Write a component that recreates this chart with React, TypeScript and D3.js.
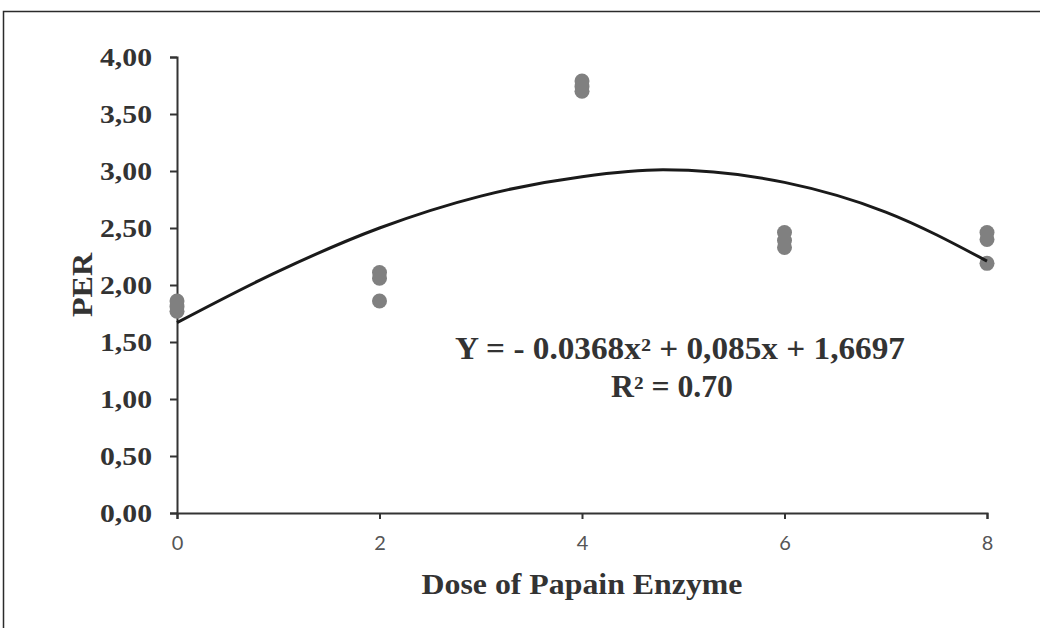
import { useEffect, useRef } from "react";
import * as d3 from "d3";

const doses = [0, 2, 4, 6, 8];
const perValues = [
  [1.86, 1.81, 1.77],
  [2.11, 2.06, 1.86],
  [3.79, 3.74, 3.7],
  [2.46, 2.39, 2.33],
  [2.46, 2.4, 2.19],
];
// trend line
const trendX = [0, 1, 2, 3, 4, 4.8, 6, 7, 8];
const trendY = [1.67, 2.12, 2.5, 2.78, 2.95, 3.01, 2.9, 2.64, 2.21];
const yTicks = [0, 0.5, 1, 1.5, 2, 2.5, 3, 3.5, 4];

export default function App() {
  const svgRef = useRef<SVGSVGElement>(null);

  useEffect(() => {
    if (!svgRef.current) return;
    const svg = d3.select(svgRef.current);
    svg.selectAll("*").remove();

    const W = 1040;
    const H = 628;
    const x = d3.scaleLinear().domain([0, 8]).range([177, 987]);
    const y = d3.scaleLinear().domain([0, 4]).range([513, 57]);
    const serif = "'Liberation Serif', 'Times New Roman', serif";

    svg.append("rect").attr("width", W).attr("height", H).attr("fill", "#fff");

    // frame
    svg
      .append("rect")
      .attr("x", 3.5)
      .attr("y", 11.5)
      .attr("width", W + 20)
      .attr("height", H + 20)
      .attr("fill", "none")
      .attr("stroke", "#2b2b2b")
      .attr("stroke-width", 1.5);

    // y axis
    const yAxis = svg
      .append("g")
      .attr("transform", `translate(${x(0)},0)`)
      .call(
        d3
          .axisLeft(y)
          .tickValues(yTicks)
          .tickSize(7)
          .tickPadding(18)
          .tickFormat((d) => d3.format(".2f")(d as number).replace(".", ","))
      );
    yAxis.selectAll("text")
      .attr("fill", "#333")
      .attr("font-family", serif)
      .attr("font-weight", "bold")
      .attr("font-size", "26px")
      .attr("textLength", 52)
      .attr("lengthAdjust", "spacingAndGlyphs");

    // x axis
    const xAxis = svg
      .append("g")
      .attr("transform", `translate(0,${y(0)})`)
      .call(d3.axisBottom(x).tickValues(doses).tickSize(6).tickPadding(17));
    xAxis.selectAll("text")
      .attr("fill", "#555")
      .attr("font-family", "Lato, 'Noto Sans', sans-serif")
      .attr("font-size", "20px");

    svg.selectAll(".domain").attr("stroke", "#333").attr("stroke-width", 2);
    svg.selectAll(".tick line").attr("stroke", "#333").attr("stroke-width", 2);

    // points
    const pts = doses.flatMap((d, i) => perValues[i].map((v) => ({ d, v })));
    svg
      .append("g")
      .selectAll("circle")
      .data(pts)
      .enter()
      .append("circle")
      .attr("cx", (p) => x(p.d))
      .attr("cy", (p) => y(p.v))
      .attr("r", 7.5)
      .attr("fill", "#808080");

    // trend line
    const line = d3
      .line<number>()
      .x((d, i) => x(trendX[i]))
      .y((d) => y(d))
      .curve(d3.curveMonotoneX);
    svg
      .append("path")
      .datum(trendY)
      .attr("fill", "none")
      .attr("stroke", "#1a1a1a")
      .attr("stroke-width", 3)
      .attr("d", line);

    // equation
    const eq = svg
      .append("g")
      .attr("font-family", serif)
      .attr("font-weight", "bold")
      .attr("font-size", "31px")
      .attr("fill", "#333")
      .attr("text-anchor", "middle")
      .attr("lengthAdjust", "spacingAndGlyphs");
    eq.append("text")
      .attr("x", 680)
      .attr("y", 359)
      .attr("textLength", 450)
      .attr("lengthAdjust", "spacingAndGlyphs")
      .text("Y = - 0.0368x² + 0,085x + 1,6697");
    eq.append("text")
      .attr("x", 672)
      .attr("y", 397)
      .attr("textLength", 122)
      .attr("lengthAdjust", "spacingAndGlyphs")
      .text("R² = 0.70");

    // axis titles
    svg
      .append("text")
      .attr("x", 582)
      .attr("y", 594)
      .attr("text-anchor", "middle")
      .attr("font-family", serif)
      .attr("font-weight", "bold")
      .attr("font-size", "29px")
      .attr("fill", "#333")
      .attr("textLength", 321)
      .attr("lengthAdjust", "spacingAndGlyphs")
      .text("Dose of Papain Enzyme");

    svg
      .append("text")
      .attr("transform", `translate(92,285) rotate(-90)`)
      .attr("text-anchor", "middle")
      .attr("font-family", serif)
      .attr("font-weight", "bold")
      .attr("font-size", "29px")
      .attr("fill", "#333")
      .attr("textLength", 64)
      .attr("lengthAdjust", "spacingAndGlyphs")
      .text("PER");
  }, []);

  return (
    <svg
      ref={svgRef}
      width={1040}
      height={628}
      style={{ position: "fixed", left: 0, top: 0, display: "block" }}
    />
  );
}
